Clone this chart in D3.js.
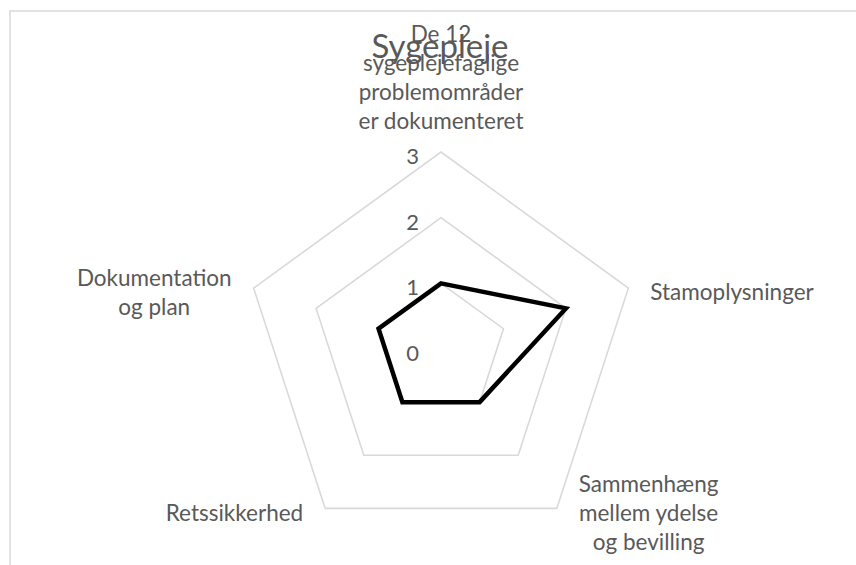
<!DOCTYPE html>
<html>
<head>
<meta charset="utf-8">
<script src="https://cdn.jsdelivr.net/npm/d3@7"></script>
<style>
  html, body { margin: 0; padding: 0; background: #fff; }
  svg { display: block; }
  text { font-family: Lato, "Open Sans", sans-serif; fill: #595959; }
</style>
</head>
<body>
<svg id="chart" width="856" height="565"></svg>
<script>
const title = "Sygepleje";
const categories = [
  ["De 12", "sygeplejefaglige", "problemområder", "er dokumenteret"],
  ["Stamoplysninger"],
  ["Sammenhæng", "mellem ydelse", "og bevilling"],
  ["Retssikkerhed"],
  ["Dokumentation", "og plan"]
];
const values = [1, 2, 1, 1, 1];
const ticks = [0, 1, 2, 3];

const W = 856, H = 565;
const cx = 441, cy = 349, R = 197;
const svg = d3.select("#chart");

// outer frame
svg.append("rect")
  .attr("x", 10).attr("y", 11)
  .attr("width", 900).attr("height", 600)
  .attr("fill", "none").attr("stroke", "#d9d9d9").attr("stroke-width", 1.5);

const r = d3.scaleLinear().domain([0, 3]).range([0, R]);
const n = categories.length;
const angle = i => i * 2 * Math.PI / n;
const pt = (i, v) => [cx + r(v) * Math.sin(angle(i)), cy - r(v) * Math.cos(angle(i))];

const g = svg.append("g");

// grid rings
const ringLine = d3.line().curve(d3.curveLinearClosed);
ticks.filter(t => t > 0).forEach(t => {
  g.append("path")
    .attr("d", ringLine(d3.range(n).map(i => pt(i, t))))
    .attr("fill", "none").attr("stroke", "#d9d9d9").attr("stroke-width", 1.6);
});

// tick labels
g.selectAll("text.tick").data(ticks).enter().append("text")
  .attr("class", "tick")
  .attr("x", cx - 22)
  .attr("y", d => cy - r(d) + 12)
  .attr("text-anchor", "end")
  .attr("font-size", 22)
  .text(d => d);

// data series
g.append("path")
  .attr("d", ringLine(values.map((v, i) => pt(i, v))))
  .attr("fill", "none").attr("stroke", "#000").attr("stroke-width", 4.5)
  .attr("stroke-linejoin", "miter");

// category labels
const lh = 29, fs = 22.5, capHalf = 7.8;
categories.forEach((lines, i) => {
  const [vx, vy] = pt(i, 3);
  const dx = Math.sin(angle(i)), dy = -Math.cos(angle(i));
  const grp = g.append("g");
  const texts = lines.map(l => grp.append("text").attr("font-size", fs).text(l));
  const widths = texts.map(t => t.node().getComputedTextLength());
  const bw = d3.max(widths);
  let centerX, firstCenterY;
  if (Math.abs(dx) < 0.1) {
    centerX = vx;
    firstCenterY = vy - 30.5 - (lines.length - 1) * lh;
  } else {
    const gap = 22;
    centerX = dx > 0 ? vx + gap + bw / 2 : vx - gap - bw / 2;
    firstCenterY = vy + 4.5 - (lines.length - 1) * lh / 2;
  }
  texts.forEach((t, k) => {
    t.attr("x", centerX).attr("text-anchor", "middle")
     .attr("y", firstCenterY + k * lh + capHalf);
  });
});

// title (drawn on top)
svg.append("text")
  .attr("x", cx - 1).attr("y", 58)
  .attr("text-anchor", "middle")
  .attr("font-size", 33)
  .text(title);
</script>
</body>
</html>
